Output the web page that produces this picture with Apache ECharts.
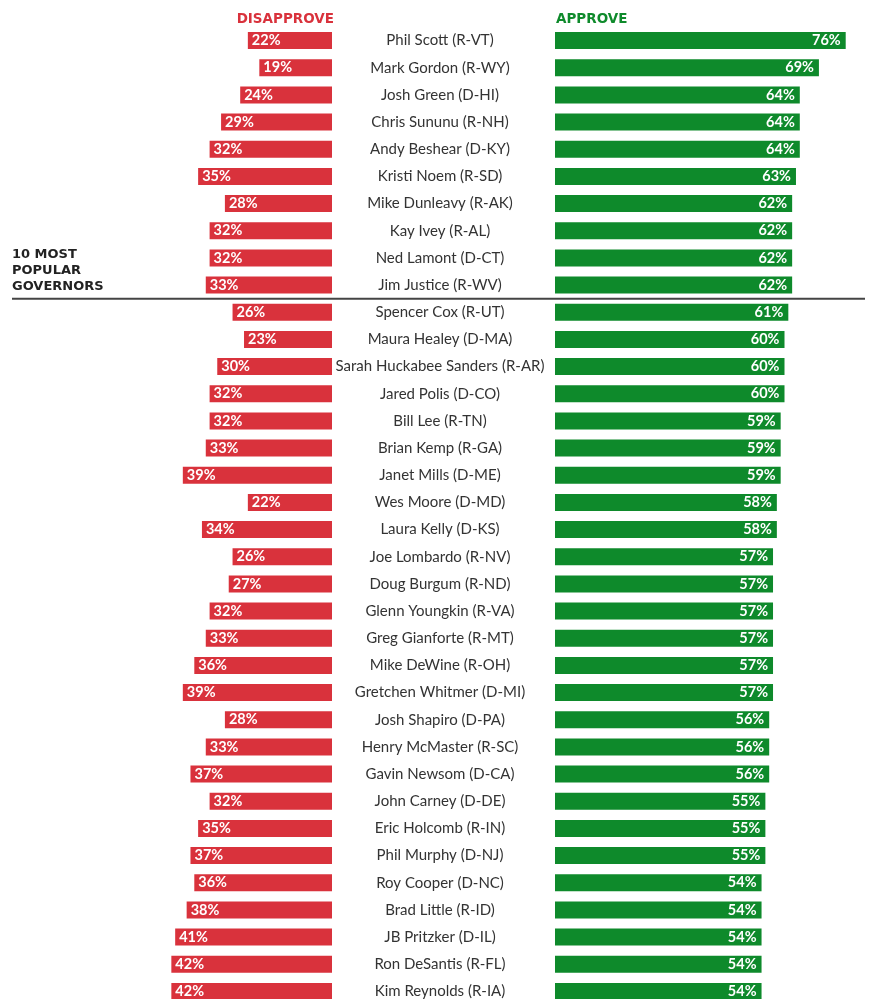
<!DOCTYPE html>
<html>
<head>
<meta charset="utf-8">
<script src="https://cdn.jsdelivr.net/npm/echarts@6/dist/echarts.min.js"></script>
<style>
html,body{margin:0;padding:0;background:#fff;}
#chart{width:871px;height:999px;}
</style>
</head>
<body>
<div id="chart"></div>
<script>
var governors = [
  'Phil Scott (R-VT)','Mark Gordon (R-WY)','Josh Green (D-HI)','Chris Sununu (R-NH)','Andy Beshear (D-KY)',
  'Kristi Noem (R-SD)','Mike Dunleavy (R-AK)','Kay Ivey (R-AL)','Ned Lamont (D-CT)','Jim Justice (R-WV)',
  'Spencer Cox (R-UT)','Maura Healey (D-MA)','Sarah Huckabee Sanders (R-AR)','Jared Polis (D-CO)','Bill Lee (R-TN)',
  'Brian Kemp (R-GA)','Janet Mills (D-ME)','Wes Moore (D-MD)','Laura Kelly (D-KS)','Joe Lombardo (R-NV)',
  'Doug Burgum (R-ND)','Glenn Youngkin (R-VA)','Greg Gianforte (R-MT)','Mike DeWine (R-OH)','Gretchen Whitmer (D-MI)',
  'Josh Shapiro (D-PA)','Henry McMaster (R-SC)','Gavin Newsom (D-CA)','John Carney (D-DE)','Eric Holcomb (R-IN)',
  'Phil Murphy (D-NJ)','Roy Cooper (D-NC)','Brad Little (R-ID)','JB Pritzker (D-IL)','Ron DeSantis (R-FL)',
  'Kim Reynolds (R-IA)'
];
var disapprove = [22,19,24,29,32,35,28,32,32,33,26,23,30,32,32,33,39,22,34,26,27,32,33,36,39,28,33,37,32,35,37,36,38,41,42,42];
var approve =    [76,69,64,64,64,63,62,62,62,62,61,60,60,60,59,59,59,58,58,57,57,57,57,57,57,56,56,56,55,55,55,54,54,54,54,54];
var popularCount = 10;

var RED = '#d9323c', GREEN = '#0e8a2b';
var chart = echarts.init(document.getElementById('chart'));
var gridTop = 27, gridHeight = 978;
chart.setOption({
  backgroundColor: '#ffffff',
  animation: false,
  grid: [
    {left: 26, width: 306, top: gridTop, height: gridHeight, outerBoundsMode: 'none', containLabel: false},
    {left: 555, width: 306, top: gridTop, height: gridHeight, outerBoundsMode: 'none', containLabel: false}
  ],
  xAxis: [
    {gridIndex: 0, type: 'value', min: 0, max: 80, inverse: true, show: false},
    {gridIndex: 1, type: 'value', min: 0, max: 80, show: false}
  ],
  yAxis: [
    {gridIndex: 0, type: 'category', data: governors, inverse: true, show: false},
    {gridIndex: 1, type: 'category', data: governors, inverse: true,
     axisLine: {show: false}, axisTick: {show: false}, splitLine: {show: false},
     axisLabel: {align: 'center', margin: 115, fontSize: 15, color: '#333', fontFamily: 'Lato', interval: 0, padding: [2, 0, 0, 0]}}
  ],
  series: [
    {type: 'bar', xAxisIndex: 0, yAxisIndex: 0, data: disapprove, barWidth: 17,
     itemStyle: {color: RED},
     label: {show: true, position: 'insideLeft', formatter: '{c}%', color: '#fff', fontWeight: 'bold', fontSize: 14.5, fontFamily: 'Lato', distance: 4}},
    {type: 'bar', xAxisIndex: 1, yAxisIndex: 1, data: approve, barWidth: 17,
     itemStyle: {color: GREEN},
     label: {show: true, position: 'insideRight', formatter: '{c}%', color: '#fff', fontWeight: 'bold', fontSize: 14.5, fontFamily: 'Lato', distance: 5}}
  ]
});

// divider between the 10 most popular and the rest, located via the category scale
var y1 = chart.convertToPixel({yAxisIndex: 1}, governors[popularCount - 1]);
var y2 = chart.convertToPixel({yAxisIndex: 1}, governors[popularCount]);
var yDiv = (y1 + y2) / 2;
chart.setOption({
  graphic: [
    {type: 'line', shape: {x1: 12, y1: yDiv, x2: 865, y2: yDiv}, style: {stroke: '#444', lineWidth: 2}},
    {type: 'text', right: 871 - 334, top: 12, style: {text: 'DISAPPROVE', fill: RED, font: 'bold 13.5px "DejaVu Sans"'}},
    {type: 'text', left: 556, top: 12, style: {text: 'APPROVE', fill: GREEN, font: 'bold 13.5px "DejaVu Sans"'}},
    {type: 'text', left: 12, top: yDiv - 52, style: {text: '10 MOST\nPOPULAR\nGOVERNORS', fill: '#222', font: 'bold 13px "DejaVu Sans"', lineHeight: 16}}
  ]
});
</script>
</body>
</html>
